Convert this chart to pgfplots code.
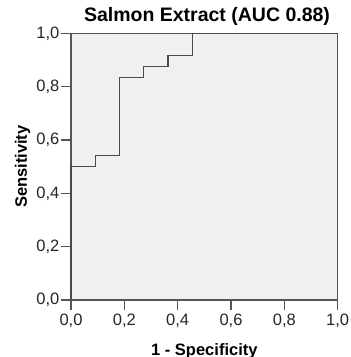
\documentclass[border=0pt]{standalone}
\usepackage{pgfplots}
\pgfplotsset{compat=1.18}
\usepackage{fontspec}
\setmainfont{Liberation Sans}
\definecolor{bggray}{HTML}{F0F0F0}
\definecolor{linegray}{HTML}{555555}
\definecolor{curvegray}{HTML}{4A4A4A}
\begin{document}
\begin{tikzpicture}[x=1pt,y=1pt]
\useasboundingbox (-71,-57) rectangle (280,300);
\begin{axis}[
  at={(0,0)}, anchor=south west,
  scale only axis, width=266.7pt, height=266.7pt,
  xmin=0, xmax=1, ymin=0, ymax=1,
  axis background/.style={fill=bggray},
  axis line style={linegray, line width=1.1pt},
  xtick={0,0.2,0.4,0.6,0.8,1}, ytick={0,0.2,0.4,0.6,0.8,1},
  tick align=outside, major tick length=10pt,
  tick style={linegray, line width=1.1pt},
  xtick pos=bottom, ytick pos=left,
  /pgf/number format/.cd, use comma, fixed, fixed zerofill, precision=1, assume math mode=true,
  /pgfplots/.cd,
  tick label style={font=\fontsize{16.5}{17}\selectfont, text=black!85},
  yticklabel style={inner sep=1.5pt},
  xticklabel style={inner sep=0pt, yshift=-4pt},
  title={Salmon Extract (AUC 0.88)},
  title style={at={(axis description cs:0.51,1)}, anchor=base, yshift=5.5pt, font=\bfseries\fontsize{19.5}{20}\selectfont},
  xlabel={1 - Specificity},
  xlabel style={at={(axis description cs:0.5,0)}, anchor=base, yshift=-55pt, font=\bfseries\fontsize{16.5}{17}\selectfont},
  ylabel={Sensitivity},
  ylabel style={at={(axis description cs:0,0.5)}, anchor=base, yshift=44pt, font=\bfseries\fontsize{16.5}{17}\selectfont},
  clip=false,
]
\addplot[curvegray, line width=1.1pt, const plot] coordinates {
  (0,0) (0,0.5) (0.0909,0.5417) (0.1818,0.8333) (0.2727,0.875) (0.3636,0.9167) (0.4545,1.0) (1.0,1.0)
};
\end{axis}
\end{tikzpicture}
\end{document}
